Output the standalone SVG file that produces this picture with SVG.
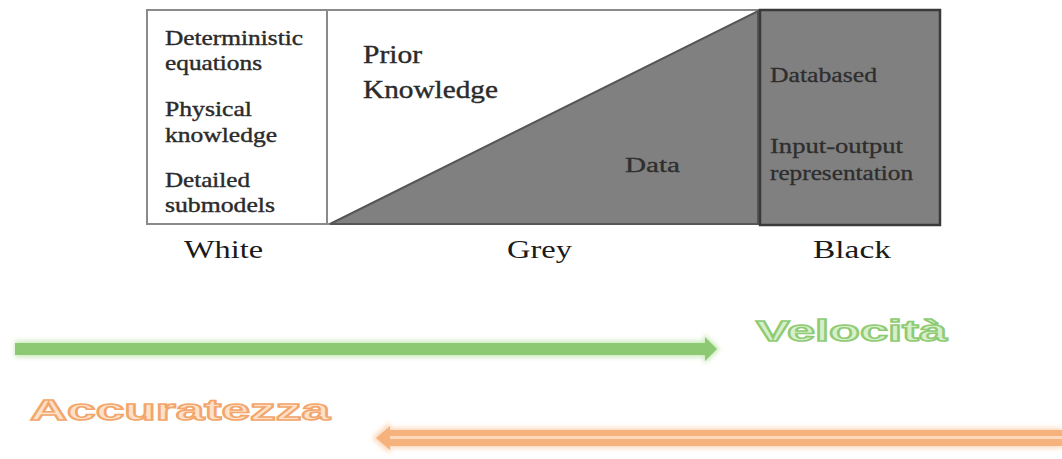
<svg xmlns="http://www.w3.org/2000/svg" width="1062" height="459" viewBox="0 0 1062 459">
<style>
.serif{font-family:"Liberation Serif","Times New Roman",serif;fill:#2b2b2b;stroke:#2b2b2b;stroke-width:0.4}
.lbl{font-family:"Liberation Serif","Times New Roman",serif;fill:#1a1a1a;font-size:26px}
.dark{font-family:"Liberation Serif","Times New Roman",serif;fill:#2e2e2e;stroke:#2e2e2e;stroke-width:0.3;font-size:20px}
.wa{font-family:"Liberation Sans",Arial,sans-serif;font-weight:bold;font-size:30px;stroke-width:1.6}
</style>
<defs>
<filter id="glow" x="-5%" y="-100%" width="110%" height="300%"><feGaussianBlur stdDeviation="2.5"/></filter>
</defs>
<g id="white-box">
<rect x="147" y="10" width="180" height="214" fill="#fff" stroke="#8a8a8a" stroke-width="2"/>
<text class="serif" font-size="21" x="165" y="45" textLength="138" lengthAdjust="spacingAndGlyphs">Deterministic</text>
<text class="serif" font-size="21" x="165" y="70" textLength="97" lengthAdjust="spacingAndGlyphs">equations</text>
<text class="serif" font-size="21" x="165" y="116" textLength="87" lengthAdjust="spacingAndGlyphs">Physical</text>
<text class="serif" font-size="21" x="165" y="142" textLength="112" lengthAdjust="spacingAndGlyphs">knowledge</text>
<text class="serif" font-size="21" x="165" y="187" textLength="85" lengthAdjust="spacingAndGlyphs">Detailed</text>
<text class="serif" font-size="21" x="165" y="212" textLength="110" lengthAdjust="spacingAndGlyphs">submodels</text>
</g>
<g id="grey-box">
<rect x="327" y="10" width="433" height="214" fill="#fff" stroke="#8a8a8a" stroke-width="2"/>
<polygon points="330,224 758,11 758,224" fill="#808080" stroke="#555" stroke-width="2"/>
<text class="serif" font-size="26" x="363" y="63" textLength="59" lengthAdjust="spacingAndGlyphs">Prior</text>
<text class="serif" font-size="26" x="363" y="98" textLength="135" lengthAdjust="spacingAndGlyphs">Knowledge</text>
<text class="dark" font-size="22" x="625" y="172" textLength="55" lengthAdjust="spacingAndGlyphs">Data</text>
</g>
<g id="black-box">
<rect x="760" y="10" width="180" height="215" fill="#808080" stroke="#3a3a3a" stroke-width="2.5"/>
<text class="dark" x="770" y="82" textLength="107" lengthAdjust="spacingAndGlyphs">Databased</text>
<text class="dark" x="770" y="153" textLength="133" lengthAdjust="spacingAndGlyphs">Input-output</text>
<text class="dark" x="770" y="180" textLength="143" lengthAdjust="spacingAndGlyphs">representation</text>
</g>
<g id="labels">
<text class="lbl" x="184" y="258" textLength="79" lengthAdjust="spacingAndGlyphs">White</text>
<text class="lbl" x="507" y="258" textLength="65" lengthAdjust="spacingAndGlyphs">Grey</text>
<text class="lbl" x="813" y="258" textLength="78" lengthAdjust="spacingAndGlyphs">Black</text>
</g>
<g id="connectors">
<g id="arrow-velocita">
<path d="M15,341 H704 V334 L720,349 L704,364 V357 H15 Z" fill="#b9e3a5" filter="url(#glow)" opacity="0.8"/>
<path d="M15,343 H705 V337 L717,349 L705,361 V355 H15 Z" fill="#8cc972"/>
</g>
<g id="arrow-accuratezza">
<path d="M1062,428 H390 V422 L372,438 L390,454 V448 H1062 Z" fill="#fbd3b3" filter="url(#glow)" opacity="0.9"/>
<path d="M1062,430 H390 V426 L376,438 L390,450 V446 H1062 Z" fill="#f6b27c"/>
<rect x="390" y="436" width="672" height="3" fill="#fcd9bd"/>
</g>
</g>
<g id="velocita">
<text class="wa" x="756" y="341" textLength="191" lengthAdjust="spacingAndGlyphs" fill="#d8efcb" stroke="#8fcb74">Velocità</text>
</g>
<g id="accuratezza">
<text class="wa" x="30" y="420" textLength="300" lengthAdjust="spacingAndGlyphs" fill="#fde1c8" stroke="#f3a66b">Accuratezza</text>
</g>
</svg>
